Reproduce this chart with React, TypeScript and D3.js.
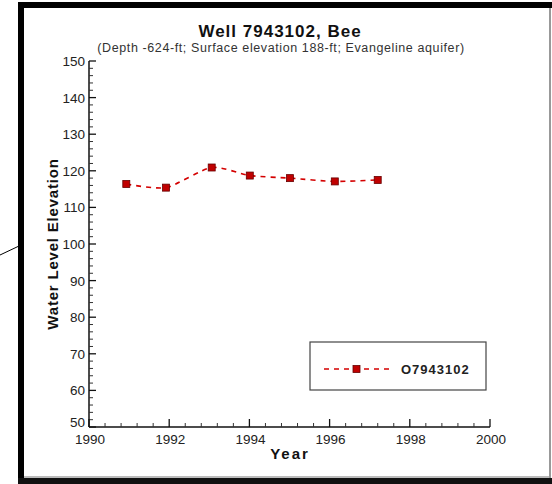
import React, { useEffect } from "react";
import * as d3 from "d3";

const years = [1990.93, 1991.92, 1993.06, 1994.01, 1995.01, 1996.13, 1997.2];
const levels = [116.4, 115.4, 120.9, 118.7, 118.0, 117.1, 117.5];
const yTicks = [50, 60, 70, 80, 90, 100, 110, 120, 130, 140, 150];
const xTicks = [1990, 1992, 1994, 1996, 1998, 2000];
const seriesName = "O7943102";

const W = 552;
const H = 484;

export default function App() {
  useEffect(() => {
    document.body.style.margin = "0";
  }, []);

  const x = d3.scaleLinear().domain([1990, 2000]).range([89, 490]);
  const y = d3.scaleLinear().domain([50, 150]).range([427, 61]);

  const yMinor = d3.range(50, 150.01, 2).filter((v) => v % 10 !== 0);
  const xMinor = d3.range(1990, 2000.01, 0.4).filter((v) => Math.abs(v / 2 - Math.round(v / 2)) > 0.01);

  const line = d3
    .line<number>()
    .x((_, i) => x(years[i]))
    .y((d) => y(d))
    .curve(d3.curveCardinal.tension(0.3));

  const red = "#d40000";
  const font = "'Liberation Sans', Arial, sans-serif";

  return (
    <svg width={W} height={H} style={{ position: "absolute", left: 0, top: 0 }} fontFamily={font}>
      <rect width={W} height={H} fill="#fff" />
      {/* outer frame */}
      <rect x={18} y={2} width={6} height={482} fill="#000" />
      <rect x={18} y={2} width={534} height={6} fill="#000" />
      <rect x={18} y={478} width={534} height={6} fill="#111" />
      <rect x={24} y={476} width={526} height={2} fill="#bbb" />
      <rect x={549} y={8} width={2} height={470} fill="#999" />
      <line x1={0} y1={255} x2={19} y2={246} stroke="#000" strokeWidth={1} />

      {/* title */}
      <text x={280} y={37} textAnchor="middle" fontSize={17} fontWeight="bold" letterSpacing={1} fill="#111">
        Well 7943102, Bee
      </text>
      <text x={281} y={52} textAnchor="middle" fontSize={12.5} fill="#333" letterSpacing={0.6}>
        (Depth -624-ft; Surface elevation 188-ft; Evangeline aquifer)
      </text>

      {/* axes */}
      <line x1={x(1990)} x2={x(1990)} y1={y(150)} y2={y(50)} stroke="#111" strokeWidth={1.5} />
      <line x1={x(1990)} x2={x(2000)} y1={y(50)} y2={y(50)} stroke="#111" strokeWidth={1.5} />
      {yTicks.map((t) => (
        <g key={`y-${t}`}>
          <line x1={x(1990)} x2={x(1990)} y1={y(t)} y2={y(t)} stroke="#111" strokeWidth={1.3} />
          <line x1={x(1990)} x2={x(1990) + 7} y1={y(t)} y2={y(t)} stroke="#111" strokeWidth={1.3} />
          <text x={85} y={t === 50 ? y(t) : y(t) + 5} textAnchor="end" fontSize={13.5} fill="#222">
            {t}
          </text>
        </g>
      ))}
      {yMinor.map((t) => (
        <line key={`ym-${t}`} x1={x(1990)} x2={x(1990) + 4} y1={y(t)} y2={y(t)} stroke="#333" strokeWidth={1} />
      ))}
      {xTicks.map((t) => (
        <g key={`x-${t}`}>
          <line x1={x(t)} x2={x(t)} y1={y(50)} y2={y(50) - 8} stroke="#111" strokeWidth={1.3} />
          <text x={x(t) + 1} y={444} textAnchor="middle" fontSize={13.5} fill="#222">
            {t}
          </text>
        </g>
      ))}
      {xMinor.map((t) => (
        <line key={`xm-${t}`} x1={x(t)} x2={x(t)} y1={y(50)} y2={y(50) - 4} stroke="#333" strokeWidth={1} />
      ))}

      {/* axis titles */}
      <text x={290} y={459} textAnchor="middle" fontSize={15} fontWeight="bold" letterSpacing={2} fill="#111">
        Year
      </text>
      <text
        transform={`translate(58,244) rotate(-90)`}
        textAnchor="middle"
        fontSize={15}
        fontWeight="bold"
        letterSpacing={0.8}
        fill="#111"
      >
        Water Level Elevation
      </text>

      {/* series */}
      <path d={line(levels) ?? ""} fill="none" stroke={red} strokeWidth={1.6} strokeDasharray="5,5" />
      {levels.map((v, i) => (
        <rect
          key={`p-${i}`}
          x={x(years[i]) - 3.5}
          y={y(v) - 3.5}
          width={7}
          height={7}
          fill="#c00000"
          stroke="#600"
          strokeWidth={0.8}
        />
      ))}

      {/* legend */}
      <rect x={310} y={342} width={176} height={48} fill="#fff" stroke="#444" strokeWidth={1.2} />
      <line x1={324} x2={390} y1={369} y2={369} stroke={red} strokeWidth={1.6} strokeDasharray="5,5" />
      <rect x={353} y={365.5} width={7} height={7} fill="#c00000" stroke="#600" strokeWidth={0.8} />
      <text x={401} y={374} fontSize={13} fontWeight="bold" letterSpacing={1} fill="#222">
        {seriesName}
      </text>
    </svg>
  );
}
